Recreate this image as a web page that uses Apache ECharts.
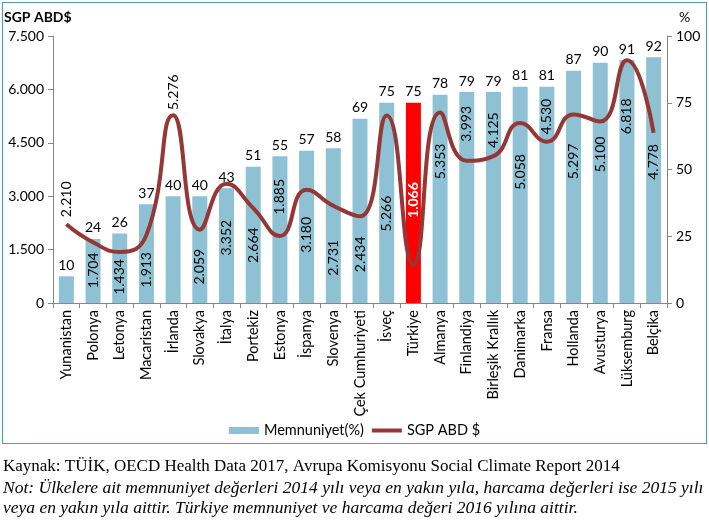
<!DOCTYPE html>
<html>
<head>
<meta charset="utf-8">
<script src="https://cdn.jsdelivr.net/npm/echarts@6/dist/echarts.min.js"></script>
<style>
html,body{margin:0;padding:0;background:#fff;}
#c{width:709px;height:521px;}
</style>
</head>
<body>
<div id="c"></div>
<script>
// ---- data ----
const countries = ['Yunanistan','Polonya','Letonya','Macaristan','İrlanda','Slovakya','İtalya','Portekiz','Estonya','İspanya','Slovenya','Çek Cumhuriyeti','İsveç','Türkiye','Almanya','Finlandiya','Birleşik Krallık','Danimarka','Fransa','Hollanda','Avusturya','Lüksemburg','Belçika'];
const satisfaction = [10,24,26,37,40,40,43,51,55,57,58,69,75,75,78,79,79,81,81,87,90,91,92];
const spending = [2210,1704,1434,1913,5276,2059,3352,2664,1885,3180,2731,2434,5266,1066,5353,3993,4125,5058,4530,5297,5100,6818,4778];
const leftTicks = ['0','1.500','3.000','4.500','6.000','7.500'];
const rightTicks = ['0','25','50','75','100'];
// label placement (vertical shift in px of each rotated spending label, relative to line point)
const labelShift = [-25,28,25,35,-23,37,54,37,-39,45,52,38,98,-65,49,-37,-26,49,-25,47,33,56,29];
const highlight = 'Türkiye';

const fmt = v => String(v).replace(/\B(?=(\d{3})+(?!\d))/g, '.');
const FONT = 'Lato';
const LINE_COLOR = '#953735';

const barData = satisfaction.map((v, i) => {
  const o = {value: v};
  if (countries[i] === highlight) o.itemStyle = {color: '#ff0000'};
  return o;
});
const lineData = spending.map((v, i) => {
  const o = {value: v};
  if (countries[i] === highlight) o.label = {color: '#ffffff', fontWeight: 'bold'};
  return o;
});

const chart = echarts.init(document.getElementById('c'), null, {renderer: 'canvas'});
chart.setOption({
  animation: false,
  textStyle: {fontFamily: FONT},
  grid: {left: 53, right: 42, top: 36, bottom: 218, containLabel: false},
  legend: {
    bottom: 78, left: 'center',
    itemWidth: 30, itemHeight: 7, itemGap: 8,
    textStyle: {fontFamily: FONT, fontSize: 14.5, color: '#000'},
    data: [
      {name: 'Memnuniyet(%)', icon: 'rect'},
      {name: 'SGP ABD $', icon: 'path://M0,0L30,0L30,4L0,4Z', itemStyle: {color: LINE_COLOR, opacity: 1}}
    ]
  },
  xAxis: {
    type: 'category', data: countries,
    axisLine: {lineStyle: {color: '#868686'}},
    axisTick: {show: true, length: 5, lineStyle: {color: '#868686'}},
    axisLabel: {rotate: 90, interval: 0, fontSize: 14.5, color: '#000', fontFamily: FONT, margin: 7}
  },
  yAxis: [
    {
      type: 'value', min: 0, max: 7500, interval: 1500, position: 'left',
      name: 'SGP ABD$', nameLocation: 'end', nameGap: 12,
      nameTextStyle: {fontFamily: FONT, fontWeight: 'bold', fontSize: 14, color: '#000', align: 'left', padding: [0,0,0,-49]},
      axisLine: {show: true, lineStyle: {color: '#868686'}},
      axisTick: {show: true, length: 5, lineStyle: {color: '#868686'}},
      splitLine: {show: false},
      axisLabel: {fontSize: 14, color: '#000', fontFamily: FONT, margin: 9,
        formatter: v => leftTicks[Math.round(v / 1500)]}
    },
    {
      type: 'value', min: 0, max: 100, interval: 25, position: 'right',
      name: '%', nameLocation: 'end', nameGap: 12,
      nameTextStyle: {fontFamily: FONT, fontSize: 14, color: '#000', align: 'left', padding: [0,0,0,12]},
      axisLine: {show: true, lineStyle: {color: '#868686'}},
      axisTick: {show: true, length: 5, lineStyle: {color: '#868686'}},
      splitLine: {show: false},
      axisLabel: {fontSize: 14, color: '#000', fontFamily: FONT, margin: 9,
        formatter: v => rightTicks[Math.round(v / 25)]}
    }
  ],
  series: [
    {
      name: 'Memnuniyet(%)', type: 'bar', yAxisIndex: 1, data: barData,
      barWidth: 15,
      itemStyle: {color: '#8fc1d4'},
      label: {show: true, position: 'top', distance: 4, fontSize: 14, color: '#000', fontFamily: FONT}
    },
    {
      name: 'SGP ABD $', type: 'line', yAxisIndex: 0, data: lineData,
      smooth: 0.5, symbol: 'circle', symbolSize: 1, showSymbol: true, showAllSymbol: true,
      lineStyle: {color: LINE_COLOR, width: 4},
      itemStyle: {color: 'rgba(0,0,0,0)', borderWidth: 0},
      label: {show: true, position: 'inside', rotate: 90, fontSize: 14, color: '#000',
        fontFamily: FONT, align: 'center', verticalAlign: 'middle',
        formatter: p => fmt(p.value)},
      labelLayout: p => ({dx: -labelShift[p.dataIndex], hideOverlap: false, moveOverlap: null}),
      z: 3
    }
  ],
  graphic: [
    {type: 'rect', shape: {x: 2.5, y: 2.5, width: 704, height: 441},
      style: {fill: null, stroke: '#4f9fb0', lineWidth: 1.2}, silent: true, z: -1},
    {type: 'text', left: 3, top: 458,
      style: {text: 'Kaynak: TÜİK, OECD Health Data 2017, Avrupa Komisyonu Social Climate Report 2014',
        font: '17px "Liberation Serif"', fill: '#000'}},
    {type: 'text', left: 3, top: 479,
      style: {text: 'Not: Ülkelere ait memnuniyet değerleri 2014 yılı veya en yakın yıla, harcama değerleri ise 2015 yılı',
        font: 'italic 17.5px "Liberation Serif"', fill: '#000'}},
    {type: 'text', left: 3, top: 499,
      style: {text: 'veya en yakın yıla aittir. Türkiye memnuniyet ve harcama değeri 2016 yılına aittir.',
        font: 'italic 17.5px "Liberation Serif"', fill: '#000'}}
  ]
});
</script>
</body>
</html>
